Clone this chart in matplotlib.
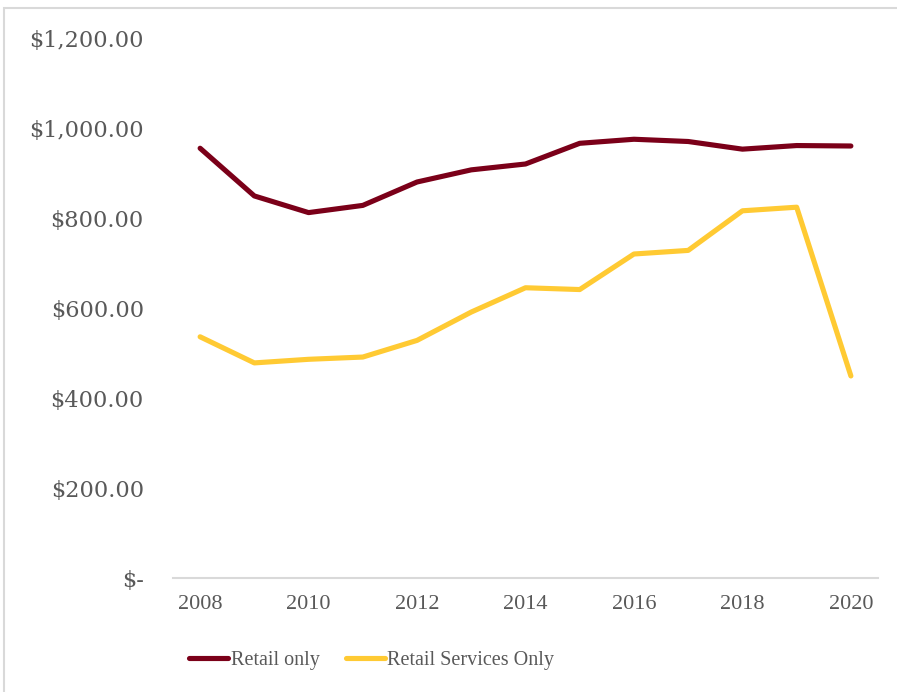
import matplotlib.pyplot as plt
from matplotlib.patches import Rectangle
from matplotlib.ticker import FuncFormatter

years = list(range(2008, 2021))
retail_only = [955, 849, 812, 828, 880, 907, 920, 966, 975, 970, 953, 961, 960]
retail_services_only = [536, 478, 486, 491, 528, 591, 645, 641, 720, 728, 816, 824, 449]
year_ticks = [2008, 2010, 2012, 2014, 2016, 2018, 2020]

text_grey = "#595959"
line_grey = "#D9D9D9"

fig = plt.figure(figsize=(8.97, 6.92), dpi=100)
ax = fig.add_axes([173 / 897, 1 - 578 / 692, 705 / 897, 540 / 692])

# outline of the chart area (runs off the right and bottom edges)
fig.patches.append(Rectangle((4 / 897, -0.05), 1.2, 1 - 8 / 692 + 0.05,
                             transform=fig.transFigure, fill=False,
                             edgecolor=line_grey, linewidth=1.5))

ax.plot(years, retail_only, color="#7B0019", linewidth=3.7,
        solid_capstyle="round", solid_joinstyle="round", label="Retail only")
ax.plot(years, retail_services_only, color="#FFCA33", linewidth=3.7,
        solid_capstyle="round", solid_joinstyle="round", label="Retail Services Only")

ax.set_xlim(2007.5, 2020.5)
ax.set_ylim(0, 1200)
ax.set_yticks(range(0, 1201, 200))
ax.set_xticks(year_ticks)


def money(v, pos):
    if v == 0:
        return "$-"
    return f"${v:,.2f}"


ax.yaxis.set_major_formatter(FuncFormatter(money))

for s in ["top", "right", "left"]:
    ax.spines[s].set_visible(False)
ax.spines["bottom"].set_color(line_grey)
ax.spines["bottom"].set_linewidth(1.5)

ax.tick_params(axis="both", length=0, colors=text_grey)
ax.tick_params(axis="y", pad=21)
ax.tick_params(axis="x", pad=12)
for lbl in ax.get_yticklabels():
    lbl.set_family("DejaVu Serif")
    lbl.set_fontsize(16.2)
for lbl in ax.get_xticklabels():
    lbl.set_family("Liberation Serif")
    lbl.set_fontsize(16)

leg = fig.legend(loc="center left", bbox_to_anchor=(189 / 897, 1 - 660 / 692),
                 ncol=2, frameon=False, borderpad=0, borderaxespad=0,
                 handlelength=1.95, handletextpad=0.12, columnspacing=1.3,
                 prop={"family": "Liberation Serif", "size": 14.5})
for t in leg.get_texts():
    t.set_color(text_grey)

fig.savefig("out.png", dpi=100)
